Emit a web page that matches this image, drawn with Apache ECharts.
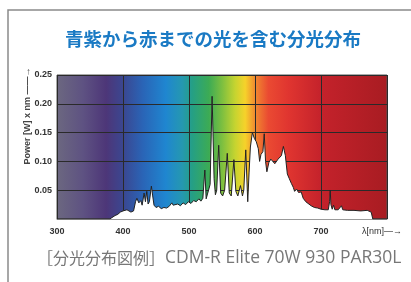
<!DOCTYPE html>
<html>
<head>
<meta charset="utf-8">
<script src="https://cdn.jsdelivr.net/npm/echarts@6/dist/echarts.min.js"></script>
<style>
html,body{margin:0;padding:0;background:#fff;}
#chart{width:411px;height:282px;}
</style>
</head>
<body>
<div id="chart"></div>
<script>
var titleText = '青紫から赤までの光を含む分光分布';
var captionLabel = '［分光分布図例］';
var captionModel = 'CDM-R Elite 70W 930 PAR30L';
var yName = 'Power [W] x nm ——→';
var xName = 'λ[nm]—→';

// wavelength (nm) and relative power
var wavelength = [300,380,383,388,392,396,400,403,406,409,412,416,419,421,424,427,429,432,434,436,438,440,443,445,447,450,454,458,462,466,470,474,476,479,483,487,491,495,499,503,507,511,515,518,521,524,526,529,532,535,538,540,542,545,548,551,554,558,561,564,568,571,574,578,581,583,586,589,591,593,596,599,602,605,607,609,612,614,616,618,621,624,627,630,632,635,637,640,643,646,649,652,655,658,660,663,666,668,670,673,677,680,685,690,695,700,706,711,713,714,715,717,719,721,726,731,733,740,750,760,770,776,778,778.5,800];
var power = [0,0,0.002,0.006,0.008,0.012,0.014,0.011,0.016,0.013,0.012,0.014,0.030,0.036,0.028,0.032,0.024,0.045,0.030,0.048,0.026,0.030,0.057,0.040,0.024,0.020,0.022,0.018,0.020,0.019,0.022,0.028,0.024,0.021,0.026,0.023,0.028,0.025,0.030,0.027,0.032,0.030,0.035,0.031,0.036,0.085,0.035,0.034,0.060,0.213,0.070,0.042,0.050,0.128,0.045,0.040,0.050,0.114,0.045,0.040,0.103,0.048,0.040,0.058,0.040,0.050,0.120,0.030,0.080,0.125,0.150,0.140,0.134,0.122,0.100,0.112,0.117,0.148,0.100,0.082,0.098,0.104,0.106,0.096,0.093,0.104,0.106,0.110,0.126,0.110,0.078,0.070,0.062,0.055,0.048,0.052,0.046,0.045,0.047,0.036,0.030,0.027,0.023,0.020,0.019,0.017,0.016,0.016,0.030,0.050,0.025,0.017,0.024,0.016,0.016,0.023,0.016,0.015,0.015,0.014,0.015,0.012,0.011,0,0];

var xTicks = [300,400,500,600,700];
var yTicks = [0.05,0.10,0.15,0.20,0.25];

// spectrum colours behind the plot
var bandNm = [300,340,375,400,430,465,490,505,530,550,570,585,600,620,650,700,800];
var bandColor = ['#6c6880','#5e5282','#4d3678','#3b4690','#2a64b6','#1f86d0','#2598b0','#259f85','#3cab55','#7cbf40','#c6d430','#f6d22a','#f08a30','#ea4a32','#e03530','#c4222b','#a81c22'];

var chart = echarts.init(document.getElementById('chart'));

var seriesData = wavelength.map(function(w, i){ return [w, power[i]]; });
var stops = bandNm.map(function(n, i){ return {offset:(n-300)/500, color:bandColor[i]}; });

var option = {
    animation: false,
    title: {
        text: titleText,
        left: 60,
        top: 25,
        textStyle: {color:'#1a7ac4', fontSize:18.5, fontWeight:'bold', fontFamily:'Noto Sans CJK JP'}
    },
    grid: {
        left: 57, right: 24, top: 75, bottom: 63,
        show: true,
        borderColor: '#555',
        borderWidth: 1,
        backgroundColor: new echarts.graphic.LinearGradient(0,0,1,0,stops)
    },
    xAxis: {
        type: 'value',
        min: 300, max: 800, interval: 100,
        axisLine: {show:true, lineStyle:{color:'#999'}},
        axisTick: {show:false},
        axisLabel: {
            margin: 8,
            color: '#333', fontSize: 9, fontWeight: 'bold', fontFamily: 'Liberation Sans',
            formatter: function(v){ return xTicks.indexOf(v) >= 0 ? String(v) : ''; }
        },
        splitLine: {show:true, lineStyle:{color:'#2a2a2a', width:1}}
    },
    yAxis: {
        type: 'value',
        min: 0, max: 0.25, interval: 0.05,
        axisLine: {show:false},
        axisTick: {show:false},
        axisLabel: {
            margin: 5,
            color: '#333', fontSize: 9, fontWeight: 'bold', fontFamily: 'Liberation Sans',
            formatter: function(v){
                var hit = yTicks.filter(function(t){ return Math.abs(t - v) < 1e-9; });
                return hit.length ? v.toFixed(2) : '';
            }
        },
        splitLine: {show:true, lineStyle:{color:'#2a2a2a', width:1}}
    },
    series: [{
        type: 'line',
        data: seriesData,
        showSymbol: false,
        lineStyle: {color:'#222', width:1},
        areaStyle: {color:'#ffffff', opacity:1}
    }],
    graphic: [
        {type:'polyline', shape:{points:[[8,282],[8,10],[411,10]]}, style:{stroke:'#8a8a8a', lineWidth:1.5, fill:null}},
        {type:'text', x:28, y:116, rotation:Math.PI/2,
         style:{text:yName, fill:'#444', font:'bold 9px Liberation Sans', align:'center', verticalAlign:'middle'}},
        {type:'text', x:362, y:232,
         style:{text:xName, fill:'#333', font:'9px Liberation Sans', align:'left', verticalAlign:'middle'}},
        {type:'text', x:37, y:258,
         style:{
             text:'{a|' + captionLabel + '}{b|' + captionModel + '}',
             align:'left', verticalAlign:'middle',
             rich:{
                 a:{fill:'#777', fontSize:16, fontFamily:'Noto Sans CJK JP'},
                 b:{fill:'#777', fontSize:17.5, fontFamily:'Open Sans'}
             }
         }}
    ]
};

chart.setOption(option);
</script>
</body>
</html>
